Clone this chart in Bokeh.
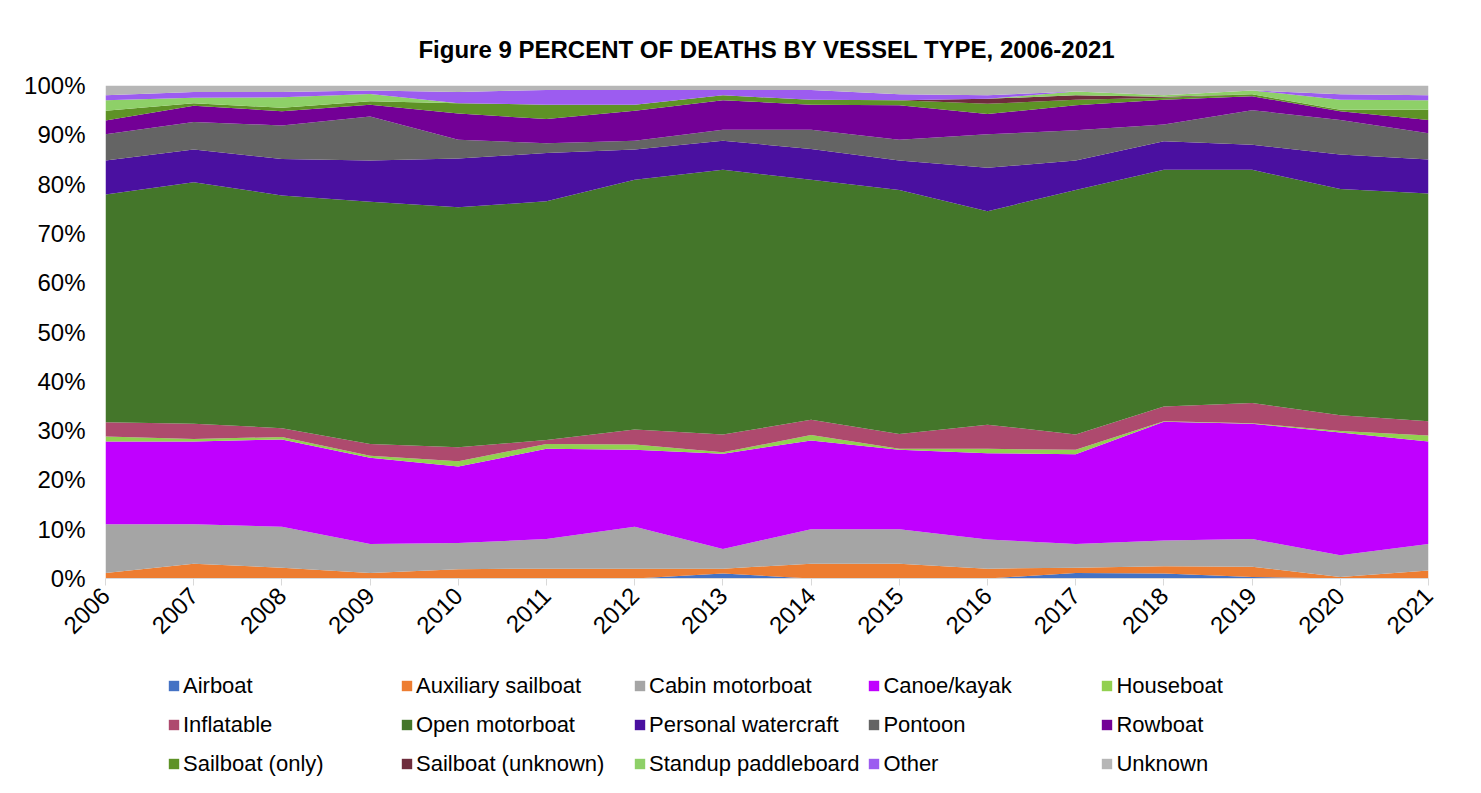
from bokeh.plotting import figure
from bokeh.layouts import column
from bokeh.models import (ColumnDataSource, Legend, LegendItem, FixedTicker,
                          PrintfTickFormatter, Range1d)
from bokeh.embed import file_html
from bokeh.resources import INLINE

# Share of boating deaths by vessel type, percent of each year's total
years = list(range(2006, 2022))
vessel_types = ["Airboat", "Auxiliary sailboat", "Cabin motorboat", "Canoe/kayak",
                "Houseboat", "Inflatable", "Open motorboat", "Personal watercraft",
                "Pontoon", "Rowboat", "Sailboat (only)", "Sailboat (unknown)",
                "Standup paddleboard", "Other", "Unknown"]

airboat             = [0.0, 0.0, 0.0, 0.0, 0.0, 0.0, 0.0, 1.0, 0.0, 0.0, 0.0, 1.1, 1.0, 0.3, 0.0, 0.0]
auxiliary_sailboat  = [1.1, 3.0, 2.2, 1.1, 1.9, 2.0, 2.0, 1.0, 3.0, 3.0, 2.0, 1.1, 1.5, 2.1, 0.3, 1.6]
cabin_motorboat     = [9.9, 8.0, 8.3, 5.9, 5.3, 6.0, 8.5, 4.0, 7.0, 7.0, 5.9, 4.8, 5.2, 5.6, 4.4, 5.4]
canoe_kayak         = [16.8, 16.8, 17.7, 17.5, 15.5, 18.3, 15.6, 19.3, 18.0, 16.1, 17.5, 18.2, 24.1, 23.4, 24.9, 20.8]
houseboat           = [1.0, 0.5, 0.5, 0.4, 1.1, 1.0, 1.1, 0.3, 1.1, 0.2, 0.9, 0.9, 0.1, 0.1, 0.3, 1.2]
inflatable          = [2.9, 3.1, 1.8, 2.4, 2.8, 0.8, 3.0, 3.6, 3.1, 3.0, 4.9, 3.1, 3.0, 4.1, 3.2, 2.9]
open_motorboat      = [46.2, 49.0, 47.2, 49.1, 48.7, 48.4, 50.7, 53.7, 48.7, 49.5, 43.3, 49.6, 48.0, 47.3, 45.9, 46.2]
personal_watercraft = [6.9, 6.6, 7.4, 8.4, 9.9, 9.8, 6.1, 5.9, 6.2, 6.0, 8.8, 6.0, 5.8, 5.1, 7.0, 6.9]
pontoon             = [5.3, 5.6, 6.8, 8.9, 3.8, 2.0, 1.8, 2.2, 3.9, 4.2, 6.8, 6.1, 3.4, 7.0, 7.0, 5.3]
rowboat             = [2.8, 3.3, 2.9, 2.4, 5.3, 4.9, 6.1, 6.0, 5.1, 7.0, 4.1, 5.1, 5.0, 2.8, 1.8, 2.7]
sailboat_only       = [2.0, 0.5, 0.7, 0.7, 2.1, 2.9, 1.2, 1.0, 1.0, 1.0, 2.1, 1.1, 0.4, 0.4, 0.3, 2.1]
sailboat_unknown    = [0.0, 0.0, 0.0, 0.0, 0.0, 0.0, 0.0, 0.0, 0.0, 0.0, 1.0, 0.9, 0.2, 0.0, 0.0, 0.0]
standup_paddleboard = [2.1, 1.1, 2.1, 1.5, 0.0, 0.0, 0.0, 0.0, 0.0, 0.0, 0.0, 0.8, 0.3, 0.8, 2.0, 1.9]
other               = [1.0, 1.2, 1.1, 0.7, 2.3, 3.0, 3.0, 1.1, 2.0, 1.2, 0.7, 0.0, 0.0, 0.0, 1.1, 1.0]
unknown             = [2.0, 1.3, 1.3, 1.0, 1.3, 0.9, 0.9, 0.9, 0.9, 1.8, 2.0, 1.2, 2.0, 1.0, 1.8, 2.0]

series = [airboat, auxiliary_sailboat, cabin_motorboat, canoe_kayak, houseboat,
          inflatable, open_motorboat, personal_watercraft, pontoon, rowboat,
          sailboat_only, sailboat_unknown, standup_paddleboard, other, unknown]

colors = ["#4472C4", "#ED7D31", "#A5A5A5", "#C000FF", "#92D050",
          "#AE4A6E", "#44762A", "#4A10A0", "#646464", "#730096",
          "#5E9226", "#6E2C3C", "#8ED068", "#9C5CF0", "#B6B6B6"]

keys = [f"v{i}" for i in range(len(series))]
data = {"year": years}
for k, vals in zip(keys, series):
    data[k] = vals
source = ColumnDataSource(data)

FONT = "Liberation Sans"

# ---- main stacked-area chart ----
p = figure(frame_width=1323, frame_height=493, output_backend="svg",
           toolbar_location=None,
           x_range=Range1d(2006, 2021), y_range=Range1d(0, 100),
           min_border_left=105, min_border_right=53, min_border_top=85,
           min_border_bottom=80)
p.background_fill_color = "white"
p.border_fill_color = "white"
p.outline_line_color = None
p.xgrid.grid_line_color = None
p.ygrid.grid_line_color = None

p.varea_stack(stackers=keys, x="year", color=colors, source=source)

p.title.text = "Figure 9 PERCENT OF DEATHS BY VESSEL TYPE, 2006-2021"
p.title.align = "center"
p.title.offset = -26
p.title.text_font = FONT
p.title.text_font_size = "24px"
p.title.text_font_style = "bold"
p.title.text_color = "black"
p.title.standoff = 45

p.yaxis.ticker = FixedTicker(ticks=list(range(0, 101, 10)))
p.yaxis.formatter = PrintfTickFormatter(format="%d%%")
p.yaxis.axis_line_color = None
p.yaxis.major_tick_line_color = None
p.yaxis.minor_tick_line_color = None
p.yaxis.major_tick_out = 0
p.yaxis.major_label_standoff = 20
p.yaxis.major_label_text_font = FONT
p.yaxis.major_label_text_font_size = "24px"
p.yaxis.major_label_text_color = "black"

p.xaxis.ticker = FixedTicker(ticks=years)
p.xaxis.formatter = PrintfTickFormatter(format="%d")
p.xaxis.axis_line_color = "#D9D9D9"
p.xaxis.major_tick_line_color = "#D9D9D9"
p.xaxis.minor_tick_line_color = None
p.xaxis.major_tick_out = 7
p.xaxis.major_tick_in = 0
p.xaxis.major_label_orientation = 0.785398
p.xaxis.major_label_standoff = 6
p.xaxis.major_label_text_font = FONT
p.xaxis.major_label_text_font_size = "24px"
p.xaxis.major_label_text_color = "black"

# ---- legend strip: same series, keyed in three rows of five ----
leg = figure(width=1481, height=135, output_backend="svg", toolbar_location=None,
             x_range=Range1d(0, 1), y_range=Range1d(0, 1), min_border=0)
leg.axis.visible = False
leg.xgrid.grid_line_color = None
leg.ygrid.grid_line_color = None
leg.outline_line_color = None
leg.border_fill_color = "white"
key_renderers = leg.varea_stack(stackers=keys, x="year", color=colors, source=source)

items = [LegendItem(label=name, renderers=[r]) for name, r in zip(vessel_types, key_renderers)]
legend = Legend(items=items, orientation="horizontal", nrows=3,
                location=(62, 14), padding=0, margin=0, spacing=8,
                glyph_width=13, glyph_height=13, label_standoff=3,
                label_width=209, label_height=31,
                label_text_font=FONT, label_text_font_size="22px",
                label_text_color="black", label_text_baseline="middle",
                border_line_color=None, background_fill_alpha=0)
leg.add_layout(legend, "center")

open("out.html", "w").write(file_html(column(p, leg, spacing=0), INLINE))
